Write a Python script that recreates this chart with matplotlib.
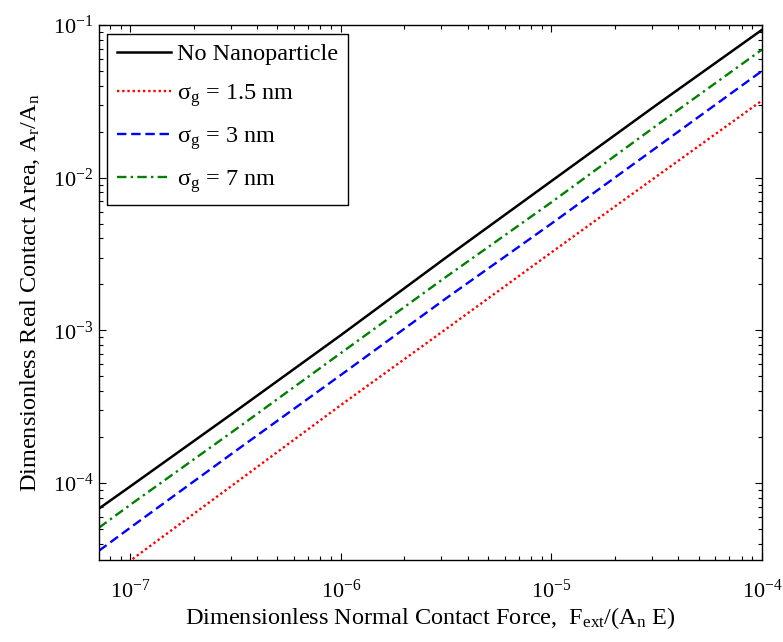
import numpy as np
import matplotlib
matplotlib.use('Agg')
import matplotlib.pyplot as plt

plt.rcParams['font.family'] = ['Liberation Serif', 'DejaVu Serif']
plt.rcParams['mathtext.fontset'] = 'custom'
plt.rcParams['mathtext.rm'] = 'Liberation Serif'
plt.rcParams['mathtext.it'] = 'Liberation Serif:italic'
plt.rcParams['mathtext.default'] = 'regular'

# dimensionless force F_ext/(A_n E)
force = [7.1e-8, 1e-7, 3.16e-7, 1e-6, 3.16e-6, 1e-5, 3.16e-5, 1e-4]

# dimensionless real contact area A_r/A_n
area_none = [6.8e-5, 9.5e-5, 2.95e-4, 9.3e-4, 3.0e-3, 9.5e-3, 3.0e-2, 9.3e-2]
area_15 = [2.2e-5, 3.1e-5, 1.0e-4, 3.24e-4, 1.02e-3, 3.24e-3, 1.02e-2, 3.2e-2]
area_3 = [3.6e-5, 5.1e-5, 1.62e-4, 5.1e-4, 1.62e-3, 5.0e-3, 1.58e-2, 5.0e-2]
area_7 = [5.1e-5, 7.2e-5, 2.24e-4, 7.1e-4, 2.24e-3, 6.9e-3, 2.2e-2, 6.9e-2]

labels = ['No Nanoparticle', r'$\sigma_g$ = 1.5 nm', r'$\sigma_g$ = 3 nm', r'$\sigma_g$ = 7 nm']

fig = plt.figure(figsize=(7.83, 6.42), dpi=100)
ax = fig.add_axes([0.1264, 0.1277, 0.8467, 0.8333])

ax.loglog(force, area_none, color='black', lw=1.8, ls='-', label=labels[0])
ax.loglog(force, area_15, color='red', lw=1.7, ls=(0, (1, 1.2)), label=labels[1])
ax.loglog(force, area_3, color='blue', lw=1.7, ls=(0, (4, 2)), label=labels[2])
ax.loglog(force, area_7, color='green', lw=1.7, ls=(0, (4, 1.8, 1, 1.8)), label=labels[3])

ax.set_xlim(7.1e-8, 1e-4)
ax.set_ylim(3.13e-5, 1e-1)

ax.tick_params(which='both', direction='in', top=True, right=True, labelsize=16)
ax.tick_params(which='major', length=5, width=0.8)
ax.tick_params(which='minor', length=3, width=0.8)
ax.tick_params(axis='x', which='major', pad=14)
ax.tick_params(axis='y', which='major', pad=4)
for s in ax.spines.values():
    s.set_linewidth(1.0)

ax.set_xlabel(r'Dimensionless Normal Contact Force,  $F_{ext}/(A_n\ E)$', fontsize=17.5, labelpad=2)
ax.set_ylabel(r'Dimensionless Real Contact Area, $A_r/A_n$', fontsize=17.5, labelpad=8)

leg = ax.legend(loc='upper left', fontsize=17.5, frameon=True, fancybox=False,
                framealpha=1, edgecolor='black', handlelength=2.2,
                labelspacing=0.68, borderaxespad=0.35, handletextpad=0.25,
                borderpad=0.4)
leg.get_frame().set_linewidth(1.0)

fig.savefig('out.png', dpi=100)
